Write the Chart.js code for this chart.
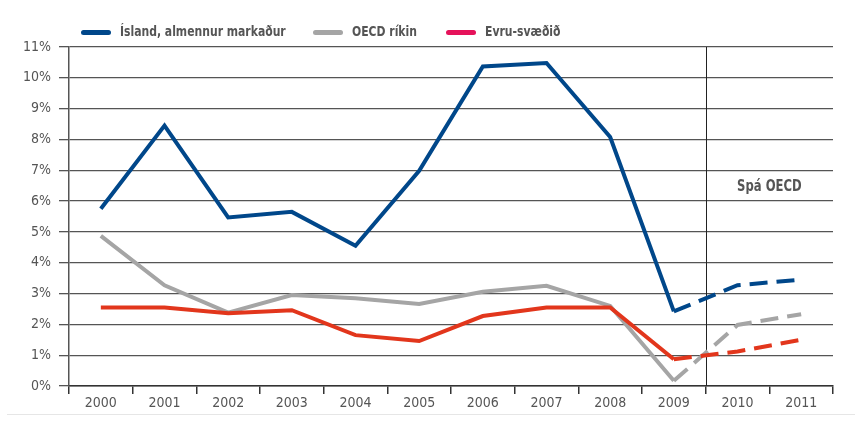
<!DOCTYPE html>
<html>
<head>
<meta charset="utf-8">
<script src="https://cdn.jsdelivr.net/npm/chart.js@4.4.1/dist/chart.umd.min.js"></script>
<style>
    body { margin: 0; background: #fff; }
    #wrap { position: relative; width: 855px; height: 425px; }
    .lg { position: absolute; top: 23px; font: bold 14px "DejaVu Sans Condensed", "Liberation Sans Narrow", sans-serif; color: #555; white-space: nowrap; }
    .lg i { position: absolute; top: 7px; width: 30px; height: 5px; border-radius: 3px; }
    .lg span { position: absolute; left: 39px; top: 0; transform: scaleX(0.86); transform-origin: left center; }
    #foot { position: absolute; left: 7px; right: 0; top: 414px; border-top: 1px solid #e6e6e6; }
</style>
</head>
<body>
<div id="wrap">
    <canvas id="chart" width="855" height="425"></canvas>
    <div class="lg" style="left:81px"><i style="background:#00478a"></i><span>Ísland, almennur markaður</span></div>
    <div class="lg" style="left:313px"><i style="background:#a5a5a5"></i><span>OECD ríkin</span></div>
    <div class="lg" style="left:446px"><i style="background:#e5125a"></i><span>Evru-svæðið</span></div>
    <div id="foot"></div>
</div>
<script>
const years = ["2000", "2001", "2002", "2003", "2004", "2005", "2006", "2007", "2008", "2009", "2010", "2011"];
const iceland = [5.75, 8.45, 5.47, 5.65, 4.55, 6.98, 10.37, 10.48, 8.08, 2.42, 3.27, 3.45];
const oecd = [4.87, 3.27, 2.38, 2.95, 2.85, 2.66, 3.06, 3.25, 2.6, 0.17, 1.98, 2.33];
const euro = [2.55, 2.55, 2.36, 2.46, 1.65, 1.46, 2.27, 2.55, 2.55, 0.87, 1.12, 1.5];
const forecastFrom = 9; // segments after 2009 are forecasts
const forecastLabel = "Spá OECD";

const font = "'DejaVu Sans Condensed', 'Liberation Sans Narrow', sans-serif";

function dashed(ctx) {
    return ctx.p0DataIndex >= forecastFrom ? [18, 9] : undefined;
}

function line(label, data, color, order) {
    return {
        label: label,
        data: data,
        borderColor: color,
        borderWidth: 4,
        pointRadius: 0,
        tension: 0,
        fill: false,
        order: order,
        segment: { borderDash: dashed }
    };
}

// vertical divider + forecast label
const forecastPlugin = {
    id: "forecast",
    beforeDatasetsDraw(chart) {
        const x = chart.scales.x, y = chart.scales.y, c = chart.ctx;
        const px = x.getPixelForValue(forecastFrom + 0.5);
        c.save();
        c.strokeStyle = "#222";
        c.lineWidth = 1;
        c.beginPath();
        c.moveTo(Math.round(px) + 0.5, chart.chartArea.top);
        c.lineTo(Math.round(px) + 0.5, chart.chartArea.bottom);
        c.stroke();
        c.fillStyle = "#555";
        c.font = "bold 15px " + font;
        c.textAlign = "center";
        c.textBaseline = "middle";
        const cx = x.getPixelForValue(forecastFrom + 1.5);
        c.translate(cx, y.getPixelForValue(6.45));
        c.scale(0.86, 1);
        c.fillText(forecastLabel, 0, 0);
        c.restore();
    }
};

new Chart(document.getElementById("chart").getContext("2d"), {
    type: "line",
    data: {
        labels: years,
        datasets: [
            line("Ísland, almennur markaður", iceland, "#00478a", 0),
            line("OECD ríkin", oecd, "#a5a5a5", 2),
            line("Evru-svæðið", euro, "#e2361c", 1)
        ]
    },
    options: {
        responsive: false,
        animation: false,
        layout: { padding: { top: 47, right: 22, left: 0, bottom: 0 } },
        plugins: { legend: { display: false }, tooltip: { enabled: false } },
        scales: {
            x: {
                offset: true,
                grid: { offset: true, drawOnChartArea: false, drawTicks: true, tickLength: 8, color: "#333", lineWidth: 1.5 },
                border: { display: true, color: "#333", width: 1.5 },
                ticks: { color: "#555", font: { family: font, size: 14 }, padding: 1, maxRotation: 0 },
                afterFit(scale) { scale.height = 39; }
            },
            y: {
                min: 0,
                max: 11,
                grid: { color: "#555", lineWidth: 1.3, tickLength: 10 },
                border: { display: true, color: "#555", width: 1.5 },
                ticks: { stepSize: 1, color: "#555", font: { family: font, size: 14 }, padding: 8,
                    callback: v => v + "%" },
                afterFit(scale) { scale.width = 69; }
            }
        }
    },
    plugins: [forecastPlugin]
});
</script>
</body>
</html>
